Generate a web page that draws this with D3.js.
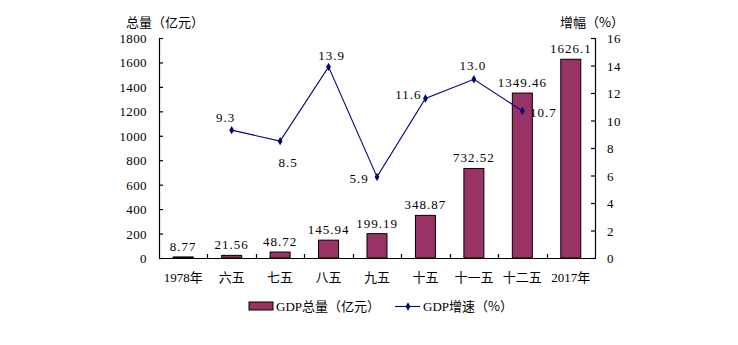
<!DOCTYPE html>
<html><head><meta charset="utf-8">
<script src="https://cdn.jsdelivr.net/npm/d3@7"></script>
<style>
body{margin:0;background:#fff;}
svg text{font-family:"Liberation Serif","Noto Sans CJK SC",serif;font-size:13px;fill:#000;}
.cjk{font-family:"Noto Sans CJK SC",sans-serif;}
</style></head>
<body><svg id="c" width="738" height="345"></svg>
<script>
const categories = ["1978年","六五","七五","八五","九五","十五","十一五","十二五","2017年"];
const gdpTotal = [8.77,21.56,48.72,145.94,199.19,348.87,732.52,1349.46,1626.1];
const gdpTotalLabels = ["8.77","21.56","48.72","145.94","199.19","348.87","732.52","1349.46","1626.1"];
const gdpGrowth = [null,9.3,8.5,13.9,5.9,11.6,13.0,10.7,null];
const gdpGrowthLabels = [null,"9.3","8.5","13.9","5.9","11.6","13.0","10.7",null];
const leftTicks = [0,200,400,600,800,1000,1200,1400,1600,1800];
const rightTicks = [0,2,4,6,8,10,12,14,16];
// label offsets (styling)
const growthLabelOffsets = [null,[-6,-8],[8,26],[3,-7],[-18,6],[-17,0],[-1,-9],[21,6],null];

const svg = d3.select("#c");
const L = 159, R = 595, T = 38, B = 258;
const x = d3.scaleBand().domain(categories).range([L,R]);
const yL = d3.scaleLinear().domain([0,1800]).range([B,T]);
const yR = d3.scaleLinear().domain([0,16]).range([B,T]);
const bw = 20;

// bars
svg.selectAll("rect.bar").data(categories).enter().append("rect")
  .attr("x", d=>x(d)+x.bandwidth()/2-bw/2)
  .attr("y", (d,i)=>yL(gdpTotal[i]))
  .attr("width", bw)
  .attr("height", (d,i)=>B-yL(gdpTotal[i]))
  .attr("fill","#993366").attr("stroke","#000").attr("stroke-width",1);

// axes
const axL = svg.append("g").attr("transform",`translate(${L},0)`)
  .call(d3.axisRight(yL).tickValues(leftTicks).tickSize(4).tickFormat(""));
const axR = svg.append("g").attr("transform",`translate(${R},0)`)
  .call(d3.axisLeft(yR).tickValues(rightTicks).tickSize(4).tickFormat(""));
[axL,axR].forEach(g=>{g.select(".domain").attr("stroke","#000").attr("stroke-width",1.2);g.selectAll("line").attr("stroke","#000").attr("stroke-width",1.2);});
axL.select(".domain").attr("d",`M0.5,${T}V${B}`);
axR.select(".domain").attr("d",`M0.5,${T}V${B}`);

// bottom axis
svg.append("line").attr("x1",L).attr("x2",R+1).attr("y1",B+0.5).attr("y2",B+0.5).attr("stroke","#000").attr("stroke-width",1.2);
svg.selectAll("line.bt").data(categories.slice(1)).enter().append("line")
  .attr("x1",d=>Math.round(x(d))+0.5).attr("x2",d=>Math.round(x(d))+0.5)
  .attr("y1",B).attr("y2",B-4).attr("stroke","#000").attr("stroke-width",1.2);

// tick labels
svg.selectAll("text.tl").data(leftTicks).enter().append("text")
  .attr("x",L-12).attr("y",d=>yL(d)+5).attr("text-anchor","end").style("letter-spacing","0.4px").text(d=>d);
svg.selectAll("text.tr").data(rightTicks).enter().append("text")
  .attr("x",R+12).attr("y",d=>yR(d)+5).attr("text-anchor","start").style("letter-spacing","0.4px").text(d=>d);
svg.selectAll("text.cat").data(categories).enter().append("text")
  .attr("x",d=>x(d)+x.bandwidth()/2).attr("y",282).attr("text-anchor","middle").text(d=>d);

// bar labels
svg.selectAll("text.bl").data(categories).enter().append("text")
  .attr("x",d=>x(d)+x.bandwidth()/2).attr("y",(d,i)=>yL(gdpTotal[i])-6)
  .attr("text-anchor","middle").style("letter-spacing","1px").text((d,i)=>gdpTotalLabels[i]);

// line
const pts = categories.map((c,i)=>({c,v:gdpGrowth[i],i})).filter(d=>d.v!=null);
const line = d3.line().x(d=>x(d.c)+x.bandwidth()/2).y(d=>yR(d.v));
svg.append("path").datum(pts).attr("d",line).attr("fill","none").attr("stroke","#000080").attr("stroke-width",1.1);
const diamond = d3.symbol().type(d3.symbolDiamond).size(20);
svg.selectAll("path.pt").data(pts).enter().append("path")
  .attr("d",diamond).attr("fill","#000080")
  .attr("transform",d=>`translate(${x(d.c)+x.bandwidth()/2},${yR(d.v)})`);
svg.selectAll("text.gl").data(pts).enter().append("text")
  .attr("x",d=>x(d.c)+x.bandwidth()/2+growthLabelOffsets[d.i][0])
  .attr("y",d=>yR(d.v)+growthLabelOffsets[d.i][1])
  .attr("text-anchor","middle").style("letter-spacing","1px").text(d=>gdpGrowthLabels[d.i]);

// axis titles
svg.append("text").attr("class","cjk").attr("x",126).attr("y",27).text("总量（亿元）");
svg.append("text").attr("class","cjk").attr("x",560).attr("y",27).text("增幅（%）");

// legend
svg.append("rect").attr("x",249).attr("y",302).attr("width",24).attr("height",8).attr("fill","#993366").attr("stroke","#000");
svg.append("text").attr("x",276).attr("y",311).text("GDP").append("tspan").attr("class","cjk").text("总量（亿元）");
svg.append("line").attr("x1",395).attr("x2",420).attr("y1",306.5).attr("y2",306.5).attr("stroke","#000080").attr("stroke-width",1.1);
svg.append("path").attr("d",diamond).attr("fill","#000080").attr("transform","translate(408,306.5)");
svg.append("text").attr("x",423).attr("y",311).text("GDP").append("tspan").attr("class","cjk").text("增速（%）");
</script></body></html>
